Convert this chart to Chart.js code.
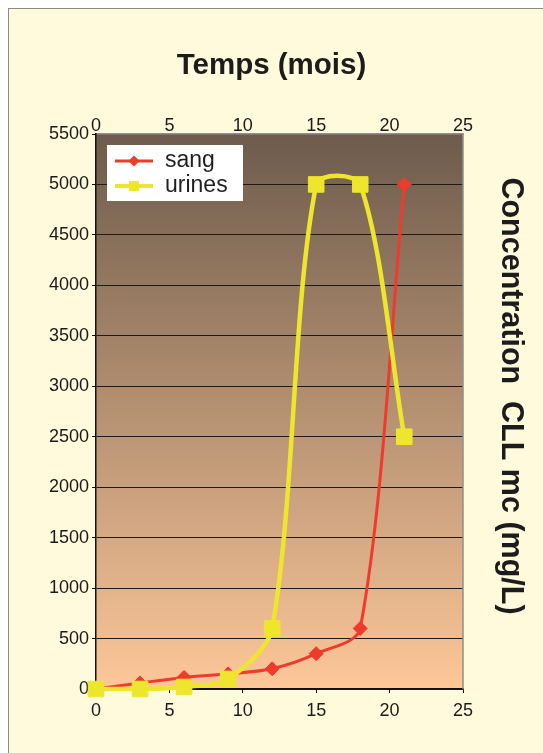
<!DOCTYPE html>
<html lang="fr">
<head>
<meta charset="utf-8">
<title>Concentration CLL mc</title>
<script src="https://cdn.jsdelivr.net/npm/chart.js@4/dist/chart.umd.min.js"></script>
<style>
  html, body { margin: 0; padding: 0; background: #ffffff; }
  #frame {
    position: absolute; left: 8px; top: 8px; width: 545px; height: 760px;
    background: #FFFADC; border: 1px solid #8a8a86; box-sizing: border-box;
  }
  #c { position: absolute; left: 0; top: 0; }
</style>
</head>
<body>
<div id="frame"></div>
<canvas id="c" width="543" height="753"></canvas>
<script>
// Time in months
const months = [0, 3, 6, 9, 12, 15, 18, 21];
// Concentration in mg/L
const sang = [0, 60, 115, 150, 200, 350, 600, 5000];
const urines = [0, 0, 20, 100, 600, 5000, 5000, 2500];
const seriesLabels = ['sang', 'urines'];
const xTitle = 'Temps (mois)';
const yTitle = 'Concentration  CLL mc (mg/L)';

const FONT = '"Liberation Sans", Arial, Helvetica, sans-serif';

const toPoints = (xs, ys) => xs.map((x, i) => ({ x, y: ys[i] }));

// Plot background gradient + grey edge on the right side
const plotBackground = {
  id: 'plotBackground',
  beforeDraw(chart) {
    const { ctx, chartArea: a } = chart;
    const g = ctx.createLinearGradient(0, a.top, 0, a.bottom);
    g.addColorStop(0, '#6D5B4C');
    g.addColorStop(1, '#FDC799');
    ctx.save();
    ctx.fillStyle = g;
    ctx.fillRect(a.left, a.top, a.right - a.left, a.bottom - a.top);
    ctx.restore();
  },
  beforeDatasetsDraw(chart) {
    const { ctx, chartArea: a } = chart;
    ctx.save();
    ctx.strokeStyle = '#8f8f8f';
    ctx.lineWidth = 1.5;
    ctx.beginPath();
    ctx.moveTo(a.right, a.top);
    ctx.lineTo(a.right, a.bottom);
    ctx.stroke();
    ctx.restore();
  }
};

// Rotated value-axis title on the right side
const sideTitle = {
  id: 'sideTitle',
  afterDraw(chart) {
    const { ctx } = chart;
    ctx.save();
    ctx.translate(510, 396);
    ctx.rotate(Math.PI / 2);
    ctx.font = 'bold 30.5px ' + FONT;
    ctx.fillStyle = '#1c1c1c';
    ctx.textAlign = 'center';
    ctx.textBaseline = 'middle';
    ctx.fillText(yTitle, 0, 0);
    ctx.restore();
  }
};

// Boxed legend inside the plot, top-left
const boxLegend = {
  id: 'boxLegend',
  afterDatasetsDraw(chart) {
    const { ctx } = chart;
    const x0 = 107, y0 = 145, w = 136, h = 56;
    ctx.save();
    ctx.fillStyle = '#ffffff';
    ctx.fillRect(x0, y0, w, h);
    chart.data.datasets.forEach((ds, i) => {
      const cy = 161 + i * 25;
      ctx.strokeStyle = ds.borderColor;
      ctx.lineWidth = i === 0 ? 3 : 4;
      ctx.beginPath();
      ctx.moveTo(115, cy);
      ctx.lineTo(153, cy);
      ctx.stroke();
      ctx.fillStyle = ds.borderColor;
      ctx.beginPath();
      if (ds.pointStyle === 'rectRot') {
        ctx.moveTo(134, cy - 5.5); ctx.lineTo(139.5, cy);
        ctx.lineTo(134, cy + 5.5); ctx.lineTo(128.5, cy);
        ctx.closePath();
      } else {
        ctx.rect(129, cy - 5, 10, 10);
      }
      ctx.fill();
      ctx.fillStyle = '#1f1f1f';
      ctx.font = '23px ' + FONT;
      ctx.textAlign = 'left';
      ctx.textBaseline = 'middle';
      ctx.fillText(ds.label, 165, cy);
    });
    ctx.restore();
  }
};

const tickFont = { family: FONT, size: 18 };
const plain = (v) => String(v);

new Chart(document.getElementById('c'), {
  type: 'line',
  data: {
    datasets: [
      {
        label: seriesLabels[0],
        data: toPoints(months, sang),
        borderColor: '#EE3B2B',
        backgroundColor: '#EE3B2B',
        borderWidth: 3,
        pointStyle: 'rectRot',
        pointRadius: 7,
        pointBorderWidth: 1,
        tension: 0.3,
        clip: false,
        order: 1
      },
      {
        label: seriesLabels[1],
        data: toPoints(months, urines),
        borderColor: '#EEE62C',
        backgroundColor: '#EEE62C',
        borderWidth: 4.5,
        pointStyle: 'rect',
        pointRadius: 11,
        pointBorderWidth: 1,
        tension: 0.3,
        clip: false,
        order: 0
      }
    ]
  },
  options: {
    responsive: false,
    animation: false,
    devicePixelRatio: 1,
    layout: { padding: 0 },
    plugins: {
      legend: { display: false },
      tooltip: { enabled: false },
      title: {
        display: true,
        text: xTitle,
        color: '#1c1c1c',
        font: { family: FONT, size: 29.5, weight: 'bold' },
        padding: { top: 48, bottom: 0 }
      }
    },
    scales: {
      x: {
        type: 'linear',
        position: 'bottom',
        min: 0, max: 25,
        afterFit(s) { s.height = 64; },
        ticks: { stepSize: 5, font: tickFont, color: '#1a1a1a', padding: 7, maxRotation: 0, callback: plain },
        grid: { display: true, drawOnChartArea: false, tickLength: 4, color: '#111' },
        border: { display: true, color: '#111', width: 1.5 }
      },
      x2: {
        type: 'linear',
        position: 'top',
        min: 0, max: 25,
        afterFit(s) { s.height = 134 - 48 - 29.5 * 1.2; },
        ticks: { stepSize: 5, font: tickFont, color: '#1a1a1a', padding: -3, maxRotation: 0, callback: plain },
        grid: { display: false, drawTicks: false },
        border: { display: true, color: '#8f8f8f', width: 1.5 }
      },
      y: {
        type: 'linear',
        position: 'left',
        min: 0, max: 5500,
        afterFit(s) { s.width = 96; },
        ticks: { stepSize: 500, font: tickFont, color: '#1a1a1a', padding: 3, callback: plain },
        grid: {
          color: (c) => (c.tick && c.tick.value === 5500 ? 'rgba(0,0,0,0)' : '#1e1a17'),
          tickColor: '#111',
          lineWidth: 1,
          tickLength: 4
        },
        border: { display: true, color: '#111', width: 1.5 }
      },
      yRight: {
        type: 'linear',
        position: 'right',
        min: 0, max: 5500,
        afterFit(s) { s.width = 80; },
        ticks: { display: false },
        grid: { display: false, drawTicks: false },
        border: { display: false }
      }
    }
  },
  plugins: [plotBackground, sideTitle, boxLegend]
});
</script>
</body>
</html>
